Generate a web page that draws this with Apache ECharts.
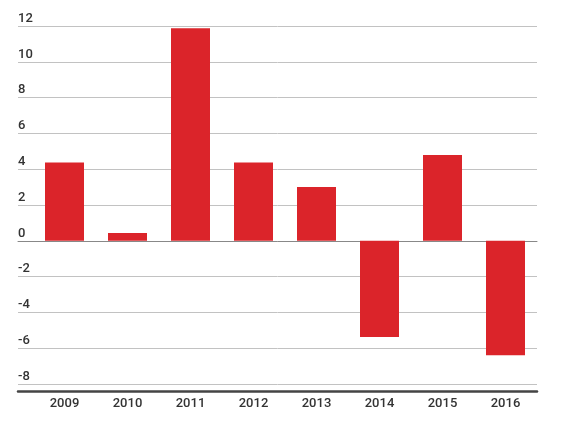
<!DOCTYPE html>
<html>
<head>
<meta charset="utf-8">
<script src="https://cdn.jsdelivr.net/npm/echarts@6/dist/echarts.min.js"></script>
<style>
html,body{margin:0;padding:0;background:#fff;}
#chart{width:562px;height:421px;}
</style>
</head>
<body>
<div id="chart"></div>
<script>
var years = ['2009','2010','2011','2012','2013','2014','2015','2016'];
var values = [4.37, 0.43, 11.87, 4.37, 3.0, -5.38, 4.79, -6.39];
var tickMin = -8;
var yMin = -8.39;
var yMax = 12;
var yStep = 2;

var chart = echarts.init(document.getElementById('chart'));
var font = 'Roboto, "Noto Sans", sans-serif';
function yHidden(idx){
  return {type:'value', gridIndex: idx, min: yMin, max: yMax, show: false};
}
chart.setOption({
  animation: false,
  backgroundColor: '#fff',
  grid: [
    {left: 18, right: 25, top: 26, height: 358},
    {left: 33, right: 25, top: 26, height: 365},
    {left: 18, right: 25, top: 26, height: 365}
  ],
  xAxis: [
    {type:'category', gridIndex:0, data: years,
     axisLine:{show:true, onZero:true, lineStyle:{color:'#888', width:1}},
     axisTick:{show:false}, axisLabel:{show:false}, splitLine:{show:false}},
    {type:'category', gridIndex:1, data: years,
     axisLine:{show:false}, axisTick:{show:false},
     axisLabel:{color:'#333', fontFamily: font, fontSize:13, fontWeight:500, margin:6}},
    {type:'category', gridIndex:2, data: years,
     axisLine:{show:true, onZero:false, lineStyle:{color:'#444', width:2.5}},
     axisTick:{show:false}, axisLabel:{show:false}}
  ],
  yAxis: [
    {type:'value', gridIndex:0, min: tickMin, max: yMax, interval: yStep,
     axisLine:{show:false}, axisTick:{show:false},
     splitLine:{show:true, lineStyle:{color:'#c2c2c2', width:1}},
     axisLabel:{inside:true, margin:0, color:'#333', fontFamily: font, fontSize:13, fontWeight:500,
       verticalAlign:'bottom', padding:[0,0,1,0]}},
    yHidden(1),
    yHidden(2)
  ],
  series: [{
    type:'bar', xAxisIndex:1, yAxisIndex:1, data: values,
    barWidth: 39, z: 3,
    itemStyle:{color:'#db242a'}
  }]
});
</script>
</body>
</html>
